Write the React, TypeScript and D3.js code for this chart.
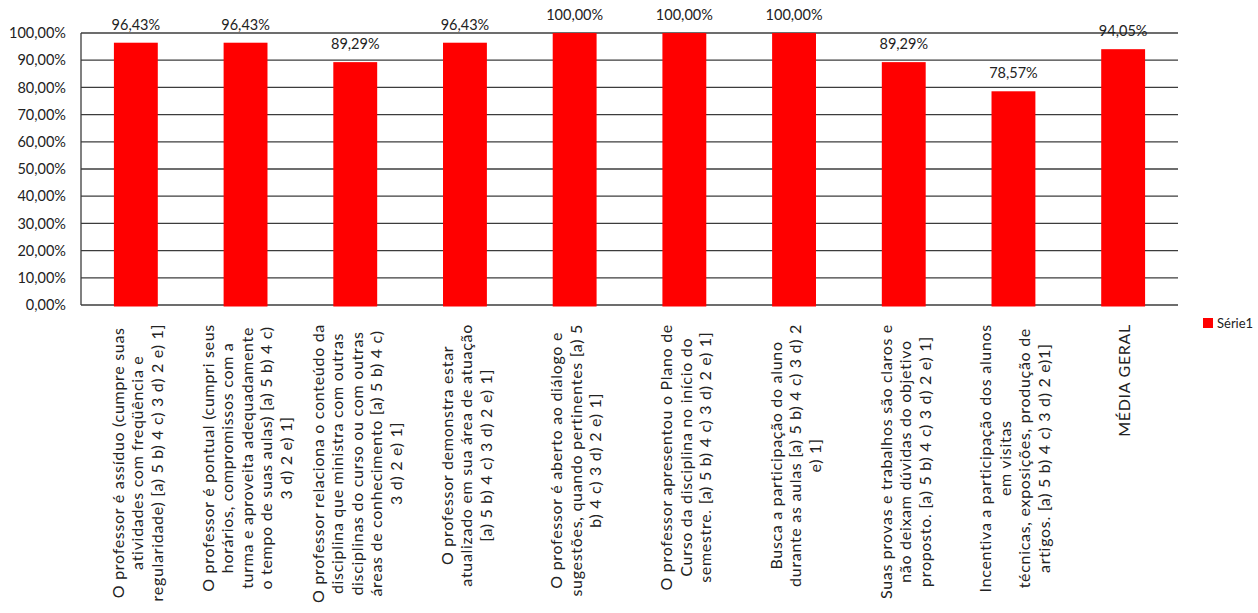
import React, { useEffect, useRef } from "react";
import * as d3 from "d3";

const categories: string[][] = [
  ["O professor é assíduo (cumpre suas", "atividades com freqüência e", "regularidade) [a) 5 b) 4 c) 3 d) 2 e) 1]"],
  ["O professor é pontual (cumpri seus", "horários, compromissos com a", "turma e aproveita adequadamente", "o tempo de suas aulas) [a) 5 b) 4 c)", "3 d) 2 e) 1]"],
  ["O professor relaciona o conteúdo da", "disciplina que ministra com outras", "disciplinas do curso ou com outras", "áreas de conhecimento [a) 5 b) 4 c)", "3 d) 2 e) 1]"],
  ["O professor demonstra estar", "atualizado em sua área de atuação", "[a) 5 b) 4 c) 3 d) 2 e) 1]"],
  ["O professor é aberto ao diálogo e", "sugestões, quando pertinentes [a) 5", "b) 4 c) 3 d) 2 e) 1]"],
  ["O professor apresentou o Plano de", "Curso da disciplina no início do", "semestre. [a) 5 b) 4 c) 3 d) 2 e) 1]"],
  ["Busca a participação do aluno", "durante as aulas [a) 5 b) 4 c) 3 d) 2", "e) 1]"],
  ["Suas provas e trabalhos são claros e", "não deixam dúvidas do objetivo", "proposto. [a) 5 b) 4 c) 3 d) 2 e) 1]"],
  ["Incentiva a participação dos alunos", "em visitas", "técnicas, exposições, produção de", "artigos. [a) 5 b) 4 c) 3 d) 2 e)1]"],
  ["MÉDIA GERAL"],
];

const values: number[] = [96.43, 96.43, 89.29, 96.43, 100, 100, 100, 89.29, 78.57, 94.05];

const yTicks: number[] = [0, 10, 20, 30, 40, 50, 60, 70, 80, 90, 100];

const seriesName = "Série1";

const fmt = (v: number) => v.toFixed(2).replace(".", ",") + "%";

export default function App() {
  const ref = useRef<SVGSVGElement | null>(null);

  useEffect(() => {
    document.body.style.margin = "0";
    document.body.style.overflow = "hidden";
    const svg = d3.select(ref.current);
    svg.selectAll("*").remove();

    const W = 1258, H = 613;
    const left = 81, right = 1178, top = 33, bottom = 305;
    const font = "Lato, 'Noto Sans', sans-serif";

    const x = d3.scaleBand<number>().domain(d3.range(values.length)).range([left, right]).paddingInner(0.6).paddingOuter(0.3);
    const y = d3.scaleLinear().domain([0, 100]).range([bottom, top]);

    svg.append("rect").attr("width", W).attr("height", H).attr("fill", "#fff");

    // gridlines
    svg.append("g")
      .selectAll("line")
      .data(yTicks)
      .join("line")
      .attr("x1", left)
      .attr("x2", right)
      .attr("y1", (d) => y(d))
      .attr("y2", (d) => y(d))
      .attr("stroke", "#3c3c3c")
      .attr("stroke-width", 1.3);

    // left axis line
    svg.append("line")
      .attr("x1", left).attr("x2", left)
      .attr("y1", y(100)).attr("y2", y(0))
      .attr("stroke", "#3c3c3c").attr("stroke-width", 1.3);

    // y tick labels
    svg.append("g")
      .selectAll("text")
      .data(yTicks)
      .join("text")
      .attr("x", left - 15)
      .attr("y", (d) => y(d))
      .attr("dy", "0.36em")
      .attr("text-anchor", "end")
      .attr("font-family", font)
      .attr("font-size", 14.5)
      .attr("fill", "#222")
      .text((d) => fmt(d));

    // bars
    svg.append("g")
      .selectAll("rect")
      .data(values)
      .join("rect")
      .attr("x", (_, i) => x(i)!)
      .attr("width", x.bandwidth())
      .attr("y", (d) => y(d))
      .attr("height", (d) => y(0) - y(d) + 1.5)
      .attr("fill", "#ff0000");

    // data labels
    svg.append("g")
      .selectAll("text")
      .data(values)
      .join("text")
      .attr("x", (_, i) => x(i)! + x.bandwidth() / 2)
      .attr("y", (d) => y(d) - 13)
      .attr("text-anchor", "middle")
      .attr("font-family", font)
      .attr("font-size", 14.5)
      .attr("fill", "#222")
      .text((d) => fmt(d));

    // category labels
    const lineGap = 19.5;
    const labelTop = 324;
    categories.forEach((lines, i) => {
      const cx = x(i)! + x.bandwidth() / 2 + 1.5;
      const g = svg.append("g");
      const texts = g.selectAll("text")
        .data(lines)
        .join("text")
        .attr("text-anchor", "middle")
        .attr("font-family", font)
        .attr("font-size", 16)
        .attr("letter-spacing", 0.7)
        .attr("fill", "#222")
        .attr("dy", "0.36em")
        .text((d) => d);
      let maxLen = 0;
      texts.each(function () {
        const l = (this as SVGTextElement).getComputedTextLength();
        if (l > maxLen) maxLen = l;
      });
      const cy = labelTop + maxLen / 2;
      texts.attr("transform", (_, j) => {
        const lx = cx + (j - (lines.length - 1) / 2) * lineGap;
        return `translate(${lx},${cy}) rotate(-90)`;
      });
    });

    // legend
    svg.append("rect")
      .attr("x", 1203).attr("y", 318).attr("width", 10).attr("height", 10)
      .attr("fill", "#ff0000");
    svg.append("text")
      .attr("x", 1217).attr("y", 323)
      .attr("dy", "0.36em")
      .attr("font-family", font)
      .attr("font-size", 13)
      .attr("fill", "#222")
      .text(seriesName);
  }, []);

  return (
    <svg
      ref={ref}
      width={1258}
      height={613}
      style={{ position: "absolute", left: 0, top: 0, display: "block" }}
    />
  );
}
